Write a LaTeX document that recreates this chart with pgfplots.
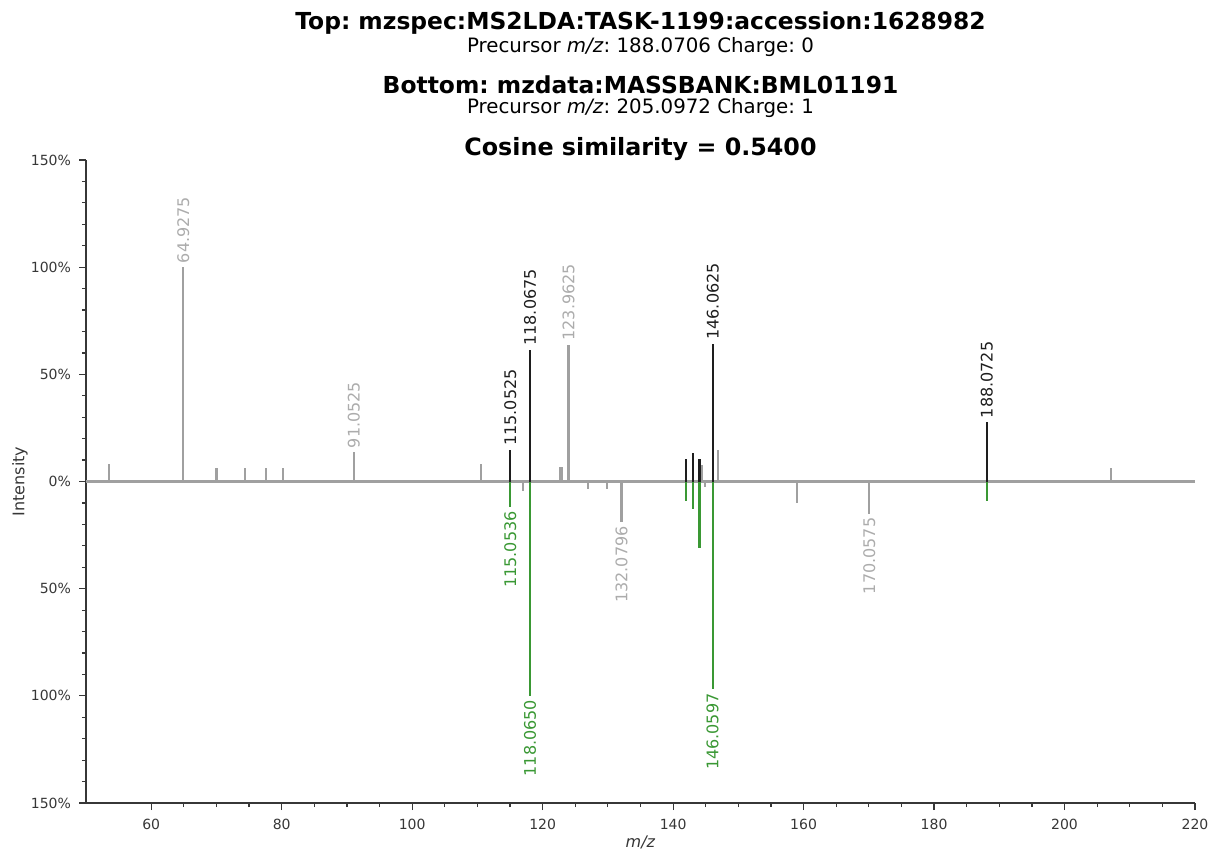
\documentclass[border=0pt]{standalone}
\usepackage{fontspec}
\setmainfont{DejaVu Sans}
\setsansfont{DejaVu Sans}
\usepackage{pgfplots}
\pgfplotsset{compat=1.18}
\usepackage{pgfplotstable}
\usetikzlibrary{calc}
\frenchspacing

\definecolor{peakgray}{RGB}{160,160,160}
\definecolor{labgray}{RGB}{172,172,172}
\definecolor{peakblack}{RGB}{30,30,30}
\definecolor{peakgreen}{RGB}{58,152,52}
\definecolor{spine}{RGB}{55,55,55}

% top spectrum
\pgfplotstableread{
mz int
53.5 8.4
70.0 6.5
74.4 6.5
77.65 6.5
80.2 6.5
110.55 8.4
122.7 6.6
123.0 6.6
144.45 7.8
146.9 14.8
207.1 6.4
}\topgray
\pgfplotstableread{
mz int label
64.9275 100 64.9275
91.0525 13.7 91.0525
123.9625 63.9 123.9625
}\topgraylab
\pgfplotstableread{
mz int
142.0 10.6
143.05 13.4
144.05 10.6
}\topblack
\pgfplotstableread{
mz int label
115.0525 14.8 115.0525
118.0675 61.5 118.0675
146.0625 64.3 146.0625
188.0725 27.7 188.0725
}\topblacklab

% bottom spectrum (negative)
\pgfplotstableread{
mz int
117.0 -4.5
127.0 -3.7
129.9 -3.7
144.9 -2.7
159.0 -10.0
}\botgray
\pgfplotstableread{
mz int label
132.0796 -19.0 132.0796
170.0575 -15.0 170.0575
}\botgraylab
\pgfplotstableread{
mz int
142.0 -8.9
143.05 -12.8
144.05 -31.0
188.07 -8.9
}\botgreen
\pgfplotstableread{
mz int label
115.0536 -12.0 115.0536
118.0650 -100.0 118.0650
146.0597 -97.0 146.0597
}\botgreenlab

\begin{document}
\begin{tikzpicture}
\begin{axis}[
    scale only axis,
    width=554.5pt, height=321.5pt,
    xmin=50, xmax=220,
    ymin=-150, ymax=150,
    axis x line*=bottom,
    axis y line*=left,
    axis line style={spine, line width=0.7pt, -},
    xtick={60,80,...,220},
    minor x tick num=3,
    ytick={-150,-100,-50,0,50,100,150},
    yticklabels={150\%,100\%,50\%,0\%,50\%,100\%,150\%},
    minor y tick num=4,
    tick align=outside,
    major tick length=3.5pt,
    minor tick length=2pt,
    tick style={spine, line width=0.6pt},
    tick label style={font=\fontsize{7}{8}\selectfont, text=spine},
    /pgf/number format/assume math mode=true,
    xticklabel style={yshift=-1pt},
    yticklabel style={xshift=-0.5pt},
    xlabel={\textit{m/z}},
    ylabel={Intensity},
    every axis x label/.style={at={(rel axis cs:0.5,0)}, yshift=-19.5pt, anchor=center,
        inner sep=0pt, font=\fontsize{8}{9}\selectfont, text=spine},
    every axis y label/.style={at={(rel axis cs:0,0.5)}, xshift=-33pt, rotate=90, anchor=center,
        inner sep=0pt, font=\fontsize{8}{9}\selectfont, text=spine},
    clip=false,
    point meta=explicit symbolic,
]
% zero line
\addplot[peakgray, line width=1.2pt] coordinates {(50,0) (220,0)};

\addplot[ycomb, peakgray, line width=1.1pt, no marks] table[x=mz, y=int] {\topgray};
\addplot[ycomb, peakgray, line width=1.1pt, no marks,
    nodes near coords, every node near coord/.append style={rotate=90, anchor=west, inner sep=1.5pt, text=labgray, font=\fontsize{8}{9}\selectfont}]
    table[x=mz, y=int, meta=label] {\topgraylab};
\addplot[ycomb, peakblack, line width=1.1pt, no marks] table[x=mz, y=int] {\topblack};
\addplot[ycomb, peakblack, line width=1.1pt, no marks,
    nodes near coords, every node near coord/.append style={rotate=90, anchor=west, inner sep=1.5pt, text=peakblack, font=\fontsize{8}{9}\selectfont}]
    table[x=mz, y=int, meta=label] {\topblacklab};

\addplot[ycomb, peakgray, line width=1.1pt, no marks] table[x=mz, y=int] {\botgray};
\addplot[ycomb, peakgray, line width=1.1pt, no marks,
    nodes near coords, every node near coord/.append style={rotate=90, anchor=east, inner sep=1.5pt, text=labgray, font=\fontsize{8}{9}\selectfont}]
    table[x=mz, y=int, meta=label] {\botgraylab};
\addplot[ycomb, peakgreen, line width=1.1pt, no marks] table[x=mz, y=int] {\botgreen};
\addplot[ycomb, peakgreen, line width=1.1pt, no marks,
    nodes near coords, every node near coord/.append style={rotate=90, anchor=east, inner sep=1.5pt, text=peakgreen, font=\fontsize{8}{9}\selectfont}]
    table[x=mz, y=int, meta=label] {\botgreenlab};

\coordinate (SW) at (rel axis cs:0,0);
\coordinate (NE) at (rel axis cs:1,1);
\coordinate (TC) at (rel axis cs:0.5,1);
\end{axis}

% titles
\node[anchor=base, font=\fontsize{11.7}{13}\selectfont\bfseries] at ($(TC)+(0,65.5pt)$) {Top: mzspec:MS2LDA:TASK-1199:accession:1628982};
\node[anchor=base, font=\fontsize{9.9}{11}\selectfont] at ($(TC)+(0,54pt)$) {Precursor \textit{m/z}: 188.0706 Charge: 0};
\node[anchor=base, font=\fontsize{11.7}{13}\selectfont\bfseries] at ($(TC)+(0,33.5pt)$) {Bottom: mzdata:MASSBANK:BML01191};
\node[anchor=base, font=\fontsize{9.9}{11}\selectfont] at ($(TC)+(0,23.5pt)$) {Precursor \textit{m/z}: 205.0972 Charge: 1};
\node[anchor=base, font=\fontsize{11.9}{13}\selectfont\bfseries] at ($(TC)+(0,2.5pt)$) {Cosine similarity = 0.5400};

\pgfresetboundingbox
\path ($(SW)+(-43pt,-24.5pt)$) rectangle ($(NE)+(14.5pt,80pt)$);
\end{tikzpicture}
\end{document}
